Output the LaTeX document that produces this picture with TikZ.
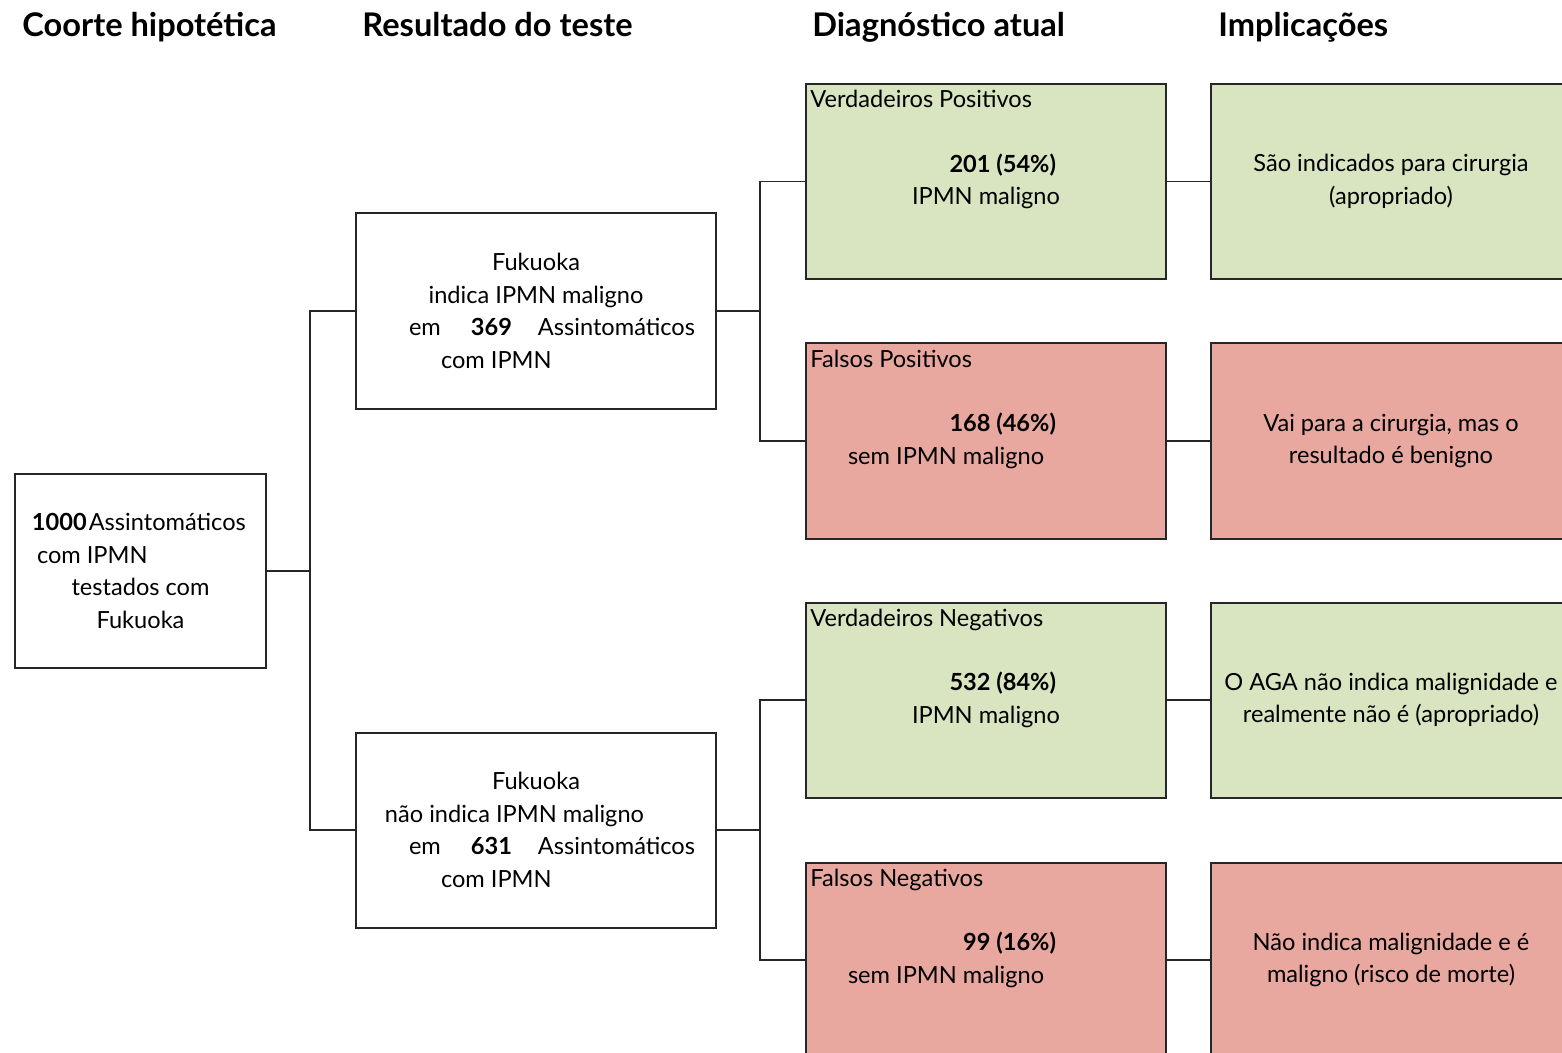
\documentclass[tikz,border=0pt]{standalone}
\usepackage{fontspec}
\setmainfont{Lato}
\usetikzlibrary{positioning}
\definecolor{verde}{RGB}{217,228,192}
\definecolor{rosa}{RGB}{232,168,160}
\begin{document}
\begin{tikzpicture}[x=0.5pt,y=-0.5pt,
	caixa/.style={draw=black!85,line width=1pt,minimum width=180pt,minimum height=97.5pt,
		align=center,inner sep=0pt,font=\fontsize{11.8}{16.3}\selectfont},
	titulo/.style={anchor=base west,inner sep=0pt,font=\fontsize{16.3}{18}\selectfont\bfseries},
	tag/.style={anchor=base west,inner sep=0pt,font=\fontsize{11.8}{14}\selectfont},
	linha/.style={draw=black!85,line width=0.8pt}]
	\useasboundingbox (0,0) rectangle (1562,1053);
	\clip (0,0) rectangle (1562,1053);
	% titulos
	\node[titulo] (t1) at (22,37) {Coorte hipotética};
	\node[titulo] (t2) at (362,37) {Resultado do teste};
	\node[titulo] (t3) at (812,37) {Diagnóstico atual};
	\node[titulo] (t4) at (1218,37) {Implicações};
	% coorte
	\node[caixa,minimum width=125.5pt,minimum height=97pt] (coorte) at (140.5,571)
	{\makebox[108.5pt][l]{\textbf{1000}\hspace{1pt}Assintomáticos}\\
	 \makebox[103.5pt][l]{com IPMN}\\ testados com\\ Fukuoka};
	% resultado
	\node[caixa] (pos) at (536,311)
	{Fukuoka\\ indica IPMN maligno\\
	 \makebox[127pt][l]{em\hspace{15pt}\textbf{369}\hspace{13pt}Assintomáticos}\\
	 \makebox[95pt][l]{com IPMN}};
	\node[caixa] (neg) at (536,830)
	{Fukuoka\\ \makebox[108pt][r]{não indica IPMN maligno}\\
	 \makebox[127pt][l]{em\hspace{15pt}\textbf{631}\hspace{13pt}Assintomáticos}\\
	 \makebox[95pt][l]{com IPMN}};
	% diagnostico
	\node[caixa,fill=verde] (vp) at (986,181.5)
	{\makebox[70pt][r]{\textbf{201 (54\%)}}\\ \makebox[74pt][l]{IPMN maligno}};
	\node[caixa,fill=rosa] (fp) at (986,441)
	{\makebox[70pt][r]{\textbf{168 (46\%)}}\\ \makebox[138pt][l]{sem IPMN maligno}};
	\node[caixa,fill=verde] (vn) at (986,700)
	{\makebox[70pt][r]{\textbf{532 (84\%)}}\\ \makebox[74pt][l]{IPMN maligno}};
	\node[caixa,fill=rosa] (fn) at (986,960)
	{\makebox[70pt][r]{\textbf{99 (16\%)}}\\ \makebox[138pt][l]{sem IPMN maligno}};
	\node[tag] (vpt) at ([shift={(5,25)}]vp.north west) {Verdadeiros Positivos};
	\node[tag] (fpt) at ([shift={(5,25)}]fp.north west) {Falsos Positivos};
	\node[tag] (vnt) at ([shift={(5,25)}]vn.north west) {Verdadeiros Negativos};
	\node[tag] (fnt) at ([shift={(5,25)}]fn.north west) {Falsos Negativos};
	% implicacoes
	\node[caixa,fill=verde] (ivp) at (1391,181.5) {São indicados para cirurgia\\ (apropriado)};
	\node[caixa,fill=rosa] (ifp) at (1391,441) {Vai para a cirurgia, mas o\\ resultado é benigno};
	\node[caixa,fill=verde] (ivn) at (1391,700) {O AGA não indica malignidade e\\ realmente não é (apropriado)};
	\node[caixa,fill=rosa] (ifn) at (1391,960) {Não indica malignidade e é\\ maligno (risco de morte)};
	% ligacoes
	\coordinate[left=22.5pt of pos.west] (r1);
	\coordinate[left=22.5pt of vp.west] (r2);
	\coordinate[left=22.5pt of vn.west] (r3);
	\draw[linha] (coorte.east) -- (coorte.east -| r1);
	\draw[linha] (pos.west) -- (r1) |- (neg.west);
	\draw[linha] (pos.east) -- (pos.east -| r2);
	\draw[linha] (vp.west) -- (r2) |- (fp.west);
	\draw[linha] (neg.east) -- (neg.east -| r3);
	\draw[linha] (vn.west) -- (r3) |- (fn.west);
	\draw[linha] (vp.east) -- (ivp.west);
	\draw[linha] (fp.east) -- (ifp.west);
	\draw[linha] (vn.east) -- (ivn.west);
	\draw[linha] (fn.east) -- (ifn.west);
\end{tikzpicture}
\end{document}
